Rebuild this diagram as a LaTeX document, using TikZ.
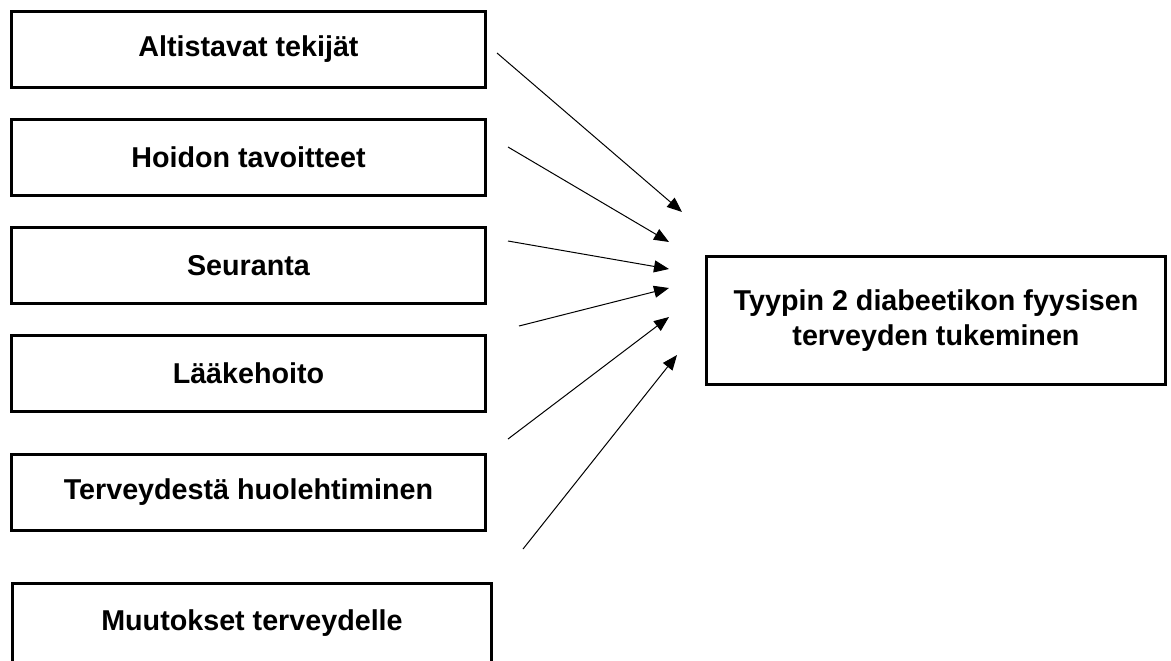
\documentclass[tikz,border=0pt]{standalone}
\usepackage{fontspec}
\setmainfont{Liberation Sans}
\usetikzlibrary{arrows.meta}
\begin{document}
\begin{tikzpicture}[x=0.5pt,y=-0.5pt,
  leftbox/.style={draw,line width=1.5pt,minimum width=237pt,minimum height=38pt,inner sep=0pt,
    font=\bfseries\fontsize{14.35pt}{17.5pt}\selectfont},
  mainbox/.style={draw,line width=1.5pt,minimum width=229.5pt,minimum height=64pt,inner sep=0pt,
    align=center,font=\bfseries\fontsize{14.35pt}{17.5pt}\selectfont},
  arr/.style={line width=0.5pt,-{Triangle[length=7.5pt,width=6pt]}}]
\useasboundingbox (0,0) rectangle (1171,660);
\clip (0,0) rectangle (1171,660);
\node[leftbox] (b1) at (248.5,49) {Altistavat tekijät};
\node[leftbox] (b2) at (248.5,157) {Hoidon tavoitteet};
\node[leftbox] (b3) at (248.5,265.5) {Seuranta};
\node[leftbox] (b4) at (248.5,373.5) {Lääkehoito};
\node[leftbox] (b5) at (248.5,492) {Terveydestä huolehtiminen};
\node[leftbox,minimum width=239.5pt,minimum height=40pt] (b6) at (252,623.5) {Muutokset terveydelle};
\node[mainbox] (m) at (936,320.5) {Tyypin 2 diabeetikon fyysisen\\terveyden tukeminen};
\coordinate (s1) at (497,53);  \coordinate (e1) at (682,212);
\coordinate (s2) at (508,147); \coordinate (e2) at (669,242);
\coordinate (s3) at (508,241); \coordinate (e3) at (669,269);
\coordinate (s4) at (519,326); \coordinate (e4) at (669,288);
\coordinate (s5) at (508,439); \coordinate (e5) at (669,317);
\coordinate (s6) at (523,549); \coordinate (e6) at (677,355);
\draw[arr] (s1) -- (e1);
\draw[arr] (s2) -- (e2);
\draw[arr] (s3) -- (e3);
\draw[arr] (s4) -- (e4);
\draw[arr] (s5) -- (e5);
\draw[arr] (s6) -- (e6);
\end{tikzpicture}
\end{document}
